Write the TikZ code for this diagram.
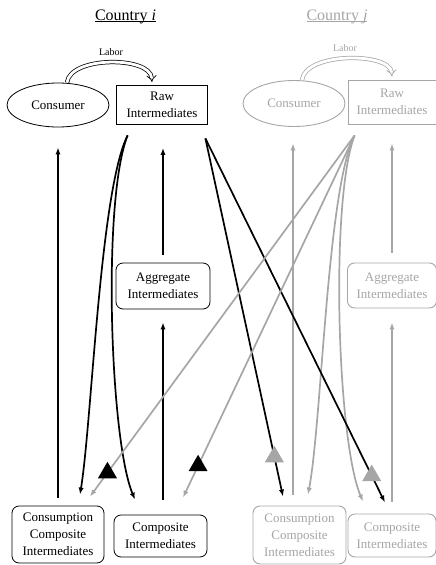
\documentclass[tikz,border=0pt]{standalone}
\usepackage{fontspec}
\setmainfont{Liberation Serif}
\usetikzlibrary{arrows.meta,shapes.geometric}
\definecolor{gline}{RGB}{166,166,166}
\definecolor{gtext}{RGB}{165,165,165}
\newcommand\myul[1]{\setbox0\hbox{#1}\rlap{\rule[-2pt]{\wd0}{0.8pt}}\box0}
\begin{document}
\begin{tikzpicture}[x=1pt,y=-1pt,
  txt/.style={font=\fontsize{13}{17}\selectfont, align=center, inner sep=0pt},
  bx/.style={txt, draw=black, line width=0.8pt},
  gbx/.style={txt, draw=gline, text=gtext, line width=0.9pt},
  rnd/.style={rounded corners=7pt},
  ell/.style={ellipse},
  ttl/.style={font=\fontsize{16}{19}\selectfont, inner sep=0pt, anchor=base},
  lab/.style={font=\fontsize{10}{12}\selectfont, inner sep=0pt, anchor=base},
  arr/.style={line width=1.7pt, -{Latex[length=7pt,width=5.2pt]}},
  garr/.style={arr, draw=gline},
  tri/.style={regular polygon, regular polygon sides=3, minimum size=22pt, inner sep=0pt, draw=none},
  labor/.style={double=white, double distance=2.8pt, line width=0.75pt, -{Implies}},
]
\useasboundingbox (0,0) rectangle (436,565);

% titles
\node[ttl] (ti) at (125.5,20) {\myul{Country \textit{i}}};
\node[ttl, text=gtext] (tj) at (337,20) {\color{gtext}\myul{Country \textit{j}}};

% country i
\node[bx, ell, minimum width=102pt, minimum height=44pt] (consi) at (58,105) {Consumer};
\node[bx, minimum width=91pt, minimum height=39pt] (rawi) at (162,105) {Raw\\Intermediates};
\node[bx, rnd, minimum width=94pt, minimum height=46pt] (aggi) at (163,286) {Aggregate\\Intermediates};
\node[bx, rnd, minimum width=92pt, minimum height=57pt] (cci) at (58,534.5) {Consumption\\Composite\\Intermediates};
\node[bx, rnd, minimum width=93pt, minimum height=42pt] (compi) at (160.5,536) {Composite\\Intermediates};

% country j
\node[gbx, ell, minimum width=102pt, minimum height=46pt] (consj) at (294,103.5) {Consumer};
\node[gbx, minimum width=88pt, minimum height=44pt] (rawj) at (392,102) {Raw\\Intermediates};
\node[gbx, rnd, minimum width=89pt, minimum height=45pt] (aggj) at (392,285.5) {Aggregate\\Intermediates};
\node[gbx, rnd, minimum width=93pt, minimum height=58pt] (ccj) at (299.5,535) {Consumption\\Composite\\Intermediates};
\node[gbx, rnd, minimum width=88pt, minimum height=43pt] (compj) at (392,535.5) {Composite\\Intermediates};

% labor
\node[lab] (labi) at (111,55) {Labor};
\node[lab, text=gtext] (labj) at (345,51) {Labor};
\draw[labor] ([xshift=9pt]consi.north) .. controls (70,56) and (150,56) .. ([xshift=-10pt,yshift=3pt]rawi.north);
\draw[labor, draw=gline] ([xshift=8pt]consj.north) .. controls (305,52) and (390,52) .. ([yshift=3pt]rawj.north);

% vertical arrows country i
\draw[arr] ([yshift=8pt]cci.north) -- ([yshift=-20pt]consi.south);
\draw[arr] ([yshift=8pt]aggi.north) -- ([xshift=1pt,yshift=-23pt]rawi.south);
\draw[arr] ([xshift=2.5pt,yshift=15pt]compi.north) -- ([yshift=-13pt]aggi.south);

% vertical arrows country j
\draw[garr] ([xshift=-6.5pt,yshift=11pt]ccj.north) -- ([xshift=-1pt,yshift=-16.5pt]consj.south);
\draw[garr] ([yshift=10pt]aggj.north) -- ([yshift=-19pt]rawj.south);
\draw[garr] ([yshift=12pt]compj.north) -- ([yshift=-14pt]aggj.south);

% gray flows from raw j
\draw[garr] ([xshift=7pt,yshift=-11pt]rawj.south west) .. controls (327,190) and (322,420) .. ([xshift=8.5pt,yshift=11pt]ccj.north);
\draw[garr] ([xshift=7pt,yshift=-11pt]rawj.south west) .. controls (330,200) and (337,440) .. ([xshift=-29pt,yshift=12pt]compj.north);

% black flows from raw i
\draw[arr] ([xshift=11.5pt,yshift=-10.5pt]rawi.south west) .. controls (100,190) and (92,420) .. ([xshift=22pt,yshift=11pt]cci.north);
\draw[arr] ([xshift=11.5pt,yshift=-10.5pt]rawi.south west) .. controls (102,200) and (110,440) .. ([xshift=-25.5pt,yshift=15pt]compi.north);

% cross-country flows
\draw[arr] ([xshift=-2.5pt,yshift=-13.5pt]rawi.south east) -- node[tri, fill=gline, pos=0.889] (t3) {} ([xshift=-16.5pt,yshift=9pt]ccj.north);
\draw[arr] ([xshift=-2.5pt,yshift=-13.5pt]rawi.south east) -- node[tri, fill=gline, pos=0.926] (t4) {} ([xshift=-7pt,yshift=11pt]compj.north);
\draw[garr] ([xshift=7pt,yshift=-11pt]rawj.south west) -- node[tri, fill=black, pos=0.934] (t1) {} ([xshift=32pt,yshift=9pt]cci.north);
\draw[garr] ([xshift=7pt,yshift=-11pt]rawj.south west) -- node[tri, fill=black, pos=0.912] (t2) {} ([xshift=22.5pt,yshift=17pt]compi.north);
\end{tikzpicture}
\end{document}
